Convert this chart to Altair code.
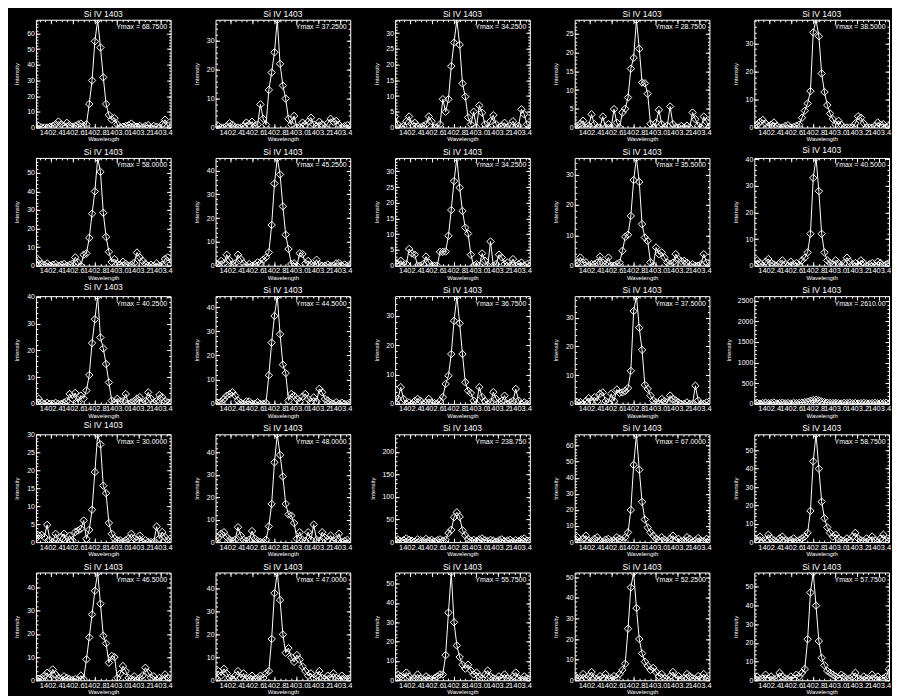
import altair as alt
import pandas as pd

FONT = "Liberation Sans"
NARROW = '"Liberation Sans Narrow", "Liberation Sans", sans-serif'

WAVELENGTH = [1402.2650, 1402.2905, 1402.3160, 1402.3415, 1402.3670, 1402.3925, 1402.4180,
              1402.4435, 1402.4690, 1402.4945, 1402.5200, 1402.5455, 1402.5710, 1402.5965,
              1402.6220, 1402.6475, 1402.6730, 1402.6985, 1402.7240, 1402.7495, 1402.7750,
              1402.8005, 1402.8260, 1402.8515, 1402.8770, 1402.9025, 1402.9280, 1402.9535,
              1402.9790, 1403.0045, 1403.0300, 1403.0555, 1403.0810, 1403.1065, 1403.1320,
              1403.1575, 1403.1830, 1403.2085, 1403.2340, 1403.2595, 1403.2850, 1403.3105,
              1403.3360, 1403.3615, 1403.3870, 1403.4125, 1403.4380, 1403.4635, 1403.4890]

XTICKS = [1402.4, 1402.6, 1402.8, 1403.0, 1403.2, 1403.4]
XMINOR = [1402.30, 1402.35, 1402.40, 1402.45, 1402.50, 1402.55, 1402.60, 1402.65,
          1402.70, 1402.75, 1402.80, 1402.85, 1402.90, 1402.95, 1403.00, 1403.05,
          1403.10, 1403.15, 1403.20, 1403.25, 1403.30, 1403.35, 1403.40, 1403.45]

YMAX = [68.75, 37.25, 34.25, 28.75, 38.5,
        58.0, 45.25, 34.25, 35.5, 40.5,
        40.25, 44.5, 36.75, 37.5, 2610.0,
        30.0, 48.0, 238.75, 67.0, 58.75,
        46.5, 47.0, 55.75, 52.25, 57.75]

YSTEP = [10, 10, 5, 5, 10,
         10, 10, 5, 10, 10,
         10, 10, 10, 10, 500,
         5, 10, 50, 10, 10,
         10, 10, 10, 10, 10]

SPEC_01 = [0,1,0,0,0,0.5,1,2,3.8,2, 1,3,1.5,0.5,1,2,2.5,1,2,15, 30,55,68.75,51,32,15,8,5,6,2, 0,0.5,1,1.5,2.5,1,0.5,1,0,1, 1.5,0,1,0.5,0,2,5,1,0]
SPEC_02 = [0,0.5,0,0,0.5,1.5,1,0,0,0, 0.5,1.7,1,2,0.5,1,8,3,1,13, 19,26,37.25,22,14.5,10,3,1,4,0, 0,1.7,1,2,3.4,1,0.5,2,1,0, 1.5,3,2,2.3,1,0,0.5,0.8,0]
SPEC_03 = [3.5,1,0,0.5,2,3.5,1,1.5,0.5,0, 0.5,1,3.5,2,0,0,1,9,5,9, 19.5,27,34.25,26.3,14,9.8,3.2,1,5,0, 7,4.7,1,0,2,3.9,1,0,0.5,1.5, 0,0.5,2,0,0.5,5.8,4.2,1,0]
SPEC_04 = [0,0.5,1,1.8,0,0.5,3.5,0.9,0,0, 2.9,0,0.9,0,4.9,1.3,0,4,5,8, 15.7,18.6,28.75,21,12,11.8,9,1,0,1.3, 4.7,0.9,0,0.5,5.6,0.9,0,0,0.4,0, 0.5,0,4,2.2,0.5,0,2.9,1.5,0]
SPEC_05 = [0.5,1,2,2.7,1.5,0.5,1,1.8,0.5,0, 0,0.5,0.8,0,0.2,0.6,1,3.5,6,8.6, 13,34,38.5,32.6,19.3,12.7,8,5,3,1, 2.4,1,0,0,0,0,1.5,4,3.5,1.5, 0,0,0,0.5,1.8,1,1.2,0,0.5]
SPEC_06 = [1,3,1,0.5,1.2,0,0.5,0.9,0,0.5, 0.9,0,0.5,1,4.5,1.8,0,5.9,6.6,15, 28,40,58,50.5,28.5,15.5,7.5,2,3.6,1, 0.5,2.1,1,0,0.5,1.5,7.1,4.5,2.7,1, 0,0.5,0,1.2,0,0.5,3.6,4.5,1]
SPEC_07 = [1,0.5,2,1,4.6,2.4,0.5,1,4.6,2.8, 1,0,0.7,0,0.5,1.4,1,2.5,3.5,5.6, 17.1,34.5,45.25,38.3,24.9,13,7,0.7,1,0, 5.2,4.9,1,2,0.5,0,2.5,0.5,0,0, 0.5,0,0,1,1.1,0,0.5,0,0]
SPEC_08 = [1,0.5,1.6,0,0.5,5.3,3.9,3.5,0,0, 0.5,2.9,1,0,0,0,4.4,4.4,4.5,9.5, 17.7,26.9,34.25,24.8,17.4,12.1,10.2,3.5,0,0.5, 0,3.9,1.6,0,7.7,0,0.5,3.5,2.6,0.5, 1,0,2.1,0,0.5,1,0,0.5,0]
SPEC_09 = [0.5,1,2.7,1,1.1,0,0.5,0.5,1,3, 1,0.5,2.7,0,0,0.5,1,4.9,9.5,10.2, 16.4,28.2,35.5,27.6,13.7,9.3,8.2,1.1,0,6, 3.8,4.4,2.7,1,0.5,1,3.8,2.2,1.5,1.6, 1,0,0.5,0,0,0.5,3.8,1,0]
SPEC_10 = [0.5,2,1,0,1.5,2.5,1,0.5,0,1, 2,0.5,0,1.5,0.5,1,0,2,3,5, 12,33,40.5,28,12,5,2,1,0.5,2, 1,0,1,3,1.5,0.5,1,0,2,1, 0,0.5,1,0,1.5,1,0,0.5,1]
SPEC_11 = [0,1.9,0.5,0,0.4,0,0,0.4,0,0, 0.5,1,3.7,1.9,4.1,0.5,3.1,2,5,10.8, 22.7,31.6,40.25,24.8,20.7,14.9,8,1.2,0.5,1.9, 1,1,3.7,0,0.5,1,2,2.5,0.5,1, 4.3,1.9,0.5,1,3.3,2.5,1,0.5,0]
SPEC_12 = [0,0.5,1,2,3.4,4,4.8,3.4,1.4,0.5, 0,1,1,0,0,0.7,0,0,0.4,11.8, 25.3,36.3,44.5,28.8,16.2,12.7,1.4,4.1,3.4,2, 1,3,4.1,2,1,2.7,1,6.2,4.8,2, 1.4,0.5,0,0.7,0,0.5,0,0,0]
SPEC_13 = [0.5,1.7,5.7,1.7,0,0.5,0,1,1.7,1.1, 0,0.5,1.7,0.5,0.3,0,1,2.3,6.8,9.6, 17,28.3,36.75,27.5,17,7.4,4.5,3.7,1.1,0, 5.7,2.3,1,0,0.5,4,1.7,0.5,1,2.8, 0,0.5,1,5.1,1.1,0,0.5,0,0]
SPEC_14 = [0,0.5,0.6,0,1,2,1,2.3,1,3.5, 4,1,0.5,3.5,1,5,3.8,4,4.5,5.5, 11.5,32.3,37.5,26.5,18.8,6.6,5.2,2.9,1.2,0.5, 0,1.7,1,0.5,2.9,1.7,1.2,0.5,0,0, 0.5,0,0,6.3,1.2,0,0,0.5,0]
SPEC_15 = [12,25,8,18,30,15,22,35,10,20, 28,14,19,9,26,17,24,32,40,55, 75,92,98,85,60,42,30,22,18,27, 15,10,24,18,29,13,21,9,17,26, 14,11,19,25,12,20,16,28,10]
SPEC_16 = [1,1.8,2,1.4,4.8,0.5,0,2.3,0,1.4, 2.3,0,1.8,0.5,2.8,3.2,3.7,6,0.9,3.4, 9,19.5,30,27.2,15.7,13.6,5.3,2.3,1,0.5, 0.5,0,0.5,1,2.3,1,0.5,1.8,0,0.5, 0,0,0,4.3,1,2.8,1.4,0.5,0]
SPEC_17 = [1,2,3.7,4.4,2.2,1,0.5,1,6.6,2.9, 1,0.5,1,4.9,1.5,0.5,0,0,1,7, 17,35.5,48,38.8,29.2,17,12.3,11.8,8.5,1.5, 4.4,1,0.5,4.4,1,7.8,1,0.5,4.4,2, 1,2.9,0.5,1,3.7,0,0.5,1,0]
SPEC_18 = [3,6,2,4,8,5,3,1,6,4, 2,7,3,5,1,4,6,3,5,20, 27,55,66,56,26,15,7,3,5,2, 6,8,4,2,5,3,1,4,6,2, 3,5,1,4,2,6,8,3,2]
SPEC_19 = [1,3,0.5,2,4,1,0.5,2,3,1, 0,1.5,2,0.5,1,3,2,1,3,6, 20,48,67,45,25,14,9,6,4,2, 1,3,1.5,0.5,2,4,1,2,0.5,1, 3,2,0,1,2.5,1,0.5,2,1]
SPEC_20 = [2,1,3,0.5,1,4,2,1,0,2, 3,1,0.5,1,2,0.5,1,2,3,5, 17,44,58.75,40,22,13,8,5,3,4, 2,1,0.5,2,1,3,5,2,1,0.5, 2,1,3,1,0,2,4,1,0.5]
SPEC_21 = [0,0.7,1,2,3.2,1,4.7,2.5,1,0.5, 1.7,1,0.5,0,0.5,0,2,0.5,9,18.5, 28.4,38.6,46.5,33,19.2,15.9,7.6,10.5,10,1, 2.8,6.1,3.9,1,0.5,1.7,0,1,2,5.4, 3.2,1,1.7,0,1,0.5,2.5,1,0]
SPEC_22 = [1,4,2,5,3,1,0.5,2,4,1, 3,0.5,1,2,0.5,1,2,1,3,4, 18,38,47,35,20,12,14,10,8,11, 9,6,4,2,3,1,2,4,1,0.5, 2,1,3,1,0.5,2,1,0.5,1]
SPEC_23 = [1,3,2,1,4,2,0.5,1,3,1, 0.5,2,1,0.5,1,2,3,3,13,35, 55.75,30,18,12,8,6,8,5,3,4, 2,1,3,5,2,1,0.5,2,1,3, 1,0.5,2,4,1,0.5,2,1,1]
SPEC_24 = [2,1,0.5,3,1,2,4,1,0.5,2, 1,3,0.5,1,2,1,3,5,8,25, 45,52.25,35,20,13,9,7,5,6,4, 2,3,1,0.5,2,4,1,2,0.5,1, 3,2,1,0.5,2,1,3,1,0.5]
SPEC_25 = [1,2,0.5,1,3,1,2,0.5,1,4, 2,1,0.5,2,1,3,2,4,6,22, 47,57.75,40,21,12,8,5,4,3,2, 1,3,2,0.5,1,2,4,1,0.5,2, 1,0.5,3,1,2,0.5,1,2,6]

SPECTRA = [SPEC_01, SPEC_02, SPEC_03, SPEC_04, SPEC_05,
           SPEC_06, SPEC_07, SPEC_08, SPEC_09, SPEC_10,
           SPEC_11, SPEC_12, SPEC_13, SPEC_14, SPEC_15,
           SPEC_16, SPEC_17, SPEC_18, SPEC_19, SPEC_20,
           SPEC_21, SPEC_22, SPEC_23, SPEC_24, SPEC_25]

for n, s in enumerate(SPECTRA):
    if len(s) != len(WAVELENGTH):
        raise ValueError(f"spectrum {n+1} has {len(s)} points")

PANEL_TITLE = "Si IV 1403"
W, H = 135, 108
MAJ, MIN = 4, 2


def ymax_label(v):
    d = len(str(int(v)))
    return f"Ymax = {v:.{6 - d}f}"


def ax(orient, values, size, labels=False, title=None, **kw):
    props = dict(orient=orient, values=values, tickSize=size, offset=-size,
                 domain=False, grid=False, labels=labels, ticks=True,
                 tickColor="white", tickWidth=1, title=title)
    props.update(kw)
    return alt.Axis(**props)


def panel(k):
    df = pd.DataFrame({"wavelength": WAVELENGTH, "intensity": SPECTRA[k]})
    ymax, step = YMAX[k], YSTEP[k]
    yt = [j * step for j in range(int(ymax // step) + 1)]
    ms = step / 5
    ym = [j * ms for j in range(int(ymax // ms) + 1)]
    xs = alt.Scale(domain=[WAVELENGTH[0], WAVELENGTH[-1]], nice=False, zero=False)
    ys = alt.Scale(domain=[0, ymax], nice=False, zero=False)

    def enc(xa, ya):
        return dict(x=alt.X("wavelength:Q", scale=xs, axis=xa),
                    y=alt.Y("intensity:Q", scale=ys, axis=ya))

    x_bottom = ax("bottom", XTICKS, MAJ, labels=True, title="Wavelength", format=".1f",
                  labelFontSize=7.5, labelFont=NARROW, labelColor="white", labelPadding=1,
                  labelOverlap=False, labelFlush=False, labelBound=False,
                  titleFontSize=6, titleFont=FONT, titleColor="white",
                  titleFontWeight="normal", titlePadding=0)
    y_left = ax("left", yt, MAJ, labels=True, title="Intensity", format="d",
                labelFontSize=7, labelFont=NARROW, labelColor="white", labelPadding=1.5,
                labelOverlap=False, labelFlush=False, labelBound=False, minExtent=14,
                titleFontSize=6, titleFont=FONT, titleColor="white",
                titleFontWeight="normal", titlePadding=6)
    base = alt.Chart(df)
    line = base.mark_line(color="white", strokeWidth=1, clip=True).encode(
        **enc(x_bottom, y_left))
    pts = base.mark_point(shape="diamond", size=55, filled=False, color="white",
                          strokeWidth=1, opacity=1, clip=True).encode(
        **enc(ax("top", XTICKS, MAJ), ax("right", yt, MAJ)))
    minor_a = base.mark_point(opacity=0, clip=True).encode(
        **enc(ax("bottom", XMINOR, MIN), ax("left", ym, MIN)))
    minor_b = base.mark_point(opacity=0, clip=True).encode(
        **enc(ax("top", XMINOR, MIN), ax("right", ym, MIN)))
    txt = alt.Chart(pd.DataFrame({"label": [ymax_label(ymax)]})).mark_text(
        align="right", baseline="alphabetic", font=FONT, fontSize=7, color="white"
    ).encode(text="label:N", x=alt.value(W - 3.5), y=alt.value(9.5))
    return alt.layer(line, pts, minor_a, minor_b, txt).resolve_axis(
        x="independent", y="independent"
    ).properties(width=W, height=H,
                 title=alt.TitleParams(PANEL_TITLE, font=FONT, fontSize=8.5,
                                       color="white", fontWeight="normal", offset=1,
                                       anchor="middle", frame="group"))


chart = alt.concat(*[panel(k) for k in range(25)], columns=5,
                   spacing={"row": 30.5, "column": 45}, bounds="flush").properties(
    background="black",
    padding={"left": 5, "top": 0, "right": 0, "bottom": 0},
).configure_view(stroke="white", strokeWidth=1, fill="black")

chart.save("out.html", embed_options={"renderer": "svg", "actions": False})
